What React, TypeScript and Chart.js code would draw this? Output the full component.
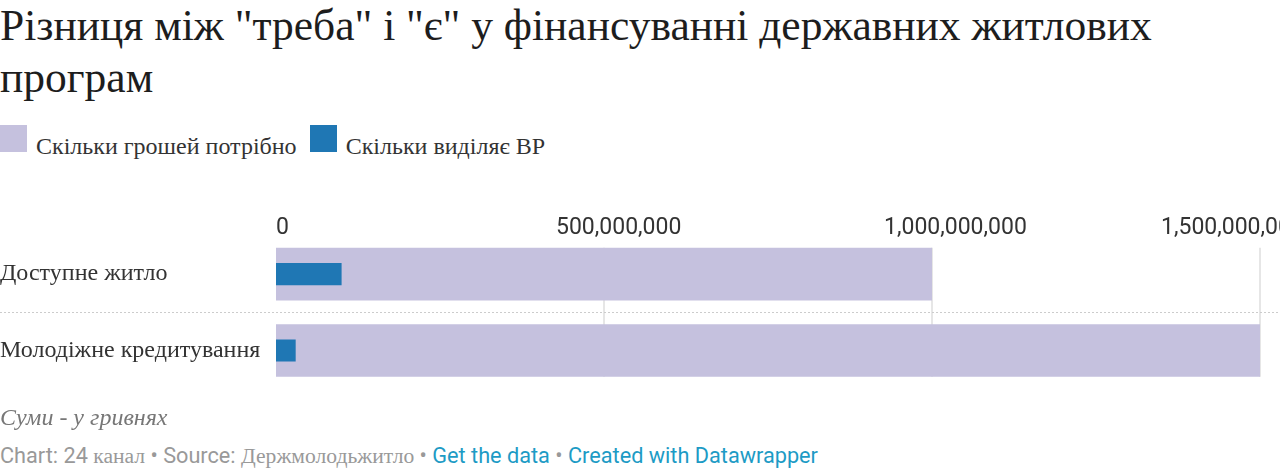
import React, { useEffect, useRef } from 'react';
import { Chart, registerables } from 'chart.js';

Chart.register(...registerables);

// chart data
const categories = ['Доступне житло', 'Молодіжне кредитування'];
const neededValues = [1000000000, 1500000000];
const allocatedValues = [100000000, 30000000];
const xTicks = [0, 500000000, 1000000000, 1500000000];

const LAVENDER = '#c5c1de';
const BLUE = '#1f77b4';
const SERIF = '"Liberation Serif", "DejaVu Serif", serif';
const SANS = 'Roboto, "Noto Sans", sans-serif';

// grid lines, row separator and top tick labels
const decorPlugin = {
  id: 'decor',
  beforeDatasetsDraw(chart: any) {
    const { ctx, chartArea } = chart;
    const x = chart.scales.x;
    const meta = chart.getDatasetMeta(1);
    const first = meta.data[0];
    const last = meta.data[meta.data.length - 1];
    const top = first.y - first.height / 2;
    const bottom = last.y + last.height / 2;
    ctx.save();
    ctx.strokeStyle = '#e6e6e6';
    ctx.lineWidth = 2;
    xTicks.slice(1).forEach((v) => {
      const px = Math.round(x.getPixelForValue(v));
      ctx.beginPath();
      ctx.moveTo(px, top);
      ctx.lineTo(px, bottom);
      ctx.stroke();
    });
    // dotted separator between rows
    const y = chart.scales.y;
    ctx.strokeStyle = '#cccccc';
    ctx.lineWidth = 1;
    ctx.setLineDash([2, 2]);
    for (let i = 0; i < categories.length - 1; i++) {
      const mid = Math.round((y.getPixelForValue(i) + y.getPixelForValue(i + 1)) / 2) + 0.5;
      ctx.beginPath();
      ctx.moveTo(0, mid);
      ctx.lineTo(chart.width, mid);
      ctx.stroke();
    }
    ctx.setLineDash([]);
    // tick labels
    ctx.fillStyle = '#333333';
    ctx.font = `23px ${SANS}`;
    ctx.textBaseline = 'alphabetic';
    ctx.textAlign = 'left';
    xTicks.forEach((v, i) => {
      const px = x.getPixelForValue(v);
      let shift = -48;
      if (i === 0) shift = 0;
      if (i === xTicks.length - 1) shift = -99;
      ctx.fillText(v.toLocaleString('en-US'), px + shift, chartArea.top - 2);
    });
    ctx.restore();
  },
};

const BarChart: React.FC = () => {
  const chartRef = useRef<HTMLCanvasElement | null>(null);
  const chartInstance = useRef<Chart | null>(null);

  useEffect(() => {
    const ctx = chartRef.current?.getContext('2d');
    if (chartInstance.current) {
      chartInstance.current.destroy();
    }
    if (ctx) {
      chartInstance.current = new Chart(ctx, {
        type: 'bar',
        data: {
          labels: categories,
          datasets: [
            {
              label: 'Скільки виділяє ВР',
              data: allocatedValues,
              backgroundColor: BLUE,
              barPercentage: 0.29,
              categoryPercentage: 1,
              grouped: false,
              order: 1,
            },
            {
              label: 'Скільки грошей потрібно',
              data: neededValues,
              backgroundColor: LAVENDER,
              barPercentage: 0.69,
              categoryPercentage: 1,
              grouped: false,
              order: 2,
            },
          ],
        },
        options: {
          indexAxis: 'y',
          animation: false,
          responsive: true,
          maintainAspectRatio: false,
          layout: { padding: { left: 0, right: 20, top: 0, bottom: 7 } },
          plugins: {
            legend: { display: false },
            tooltip: { enabled: false },
          },
          scales: {
            x: {
              position: 'top',
              min: 0,
              max: 1500000000,
              ticks: { display: false, stepSize: 500000000 },
              grid: { display: false },
              border: { display: false },
              afterFit: (scale: any) => {
                scale.height = 40;
              },
            },
            y: {
              ticks: {
                crossAlign: 'far',
                color: '#333333',
                font: { family: SERIF, size: 24 },
              },
              grid: { display: false },
              border: { display: false },
              afterFit: (scale: any) => {
                scale.width = 276;
              },
            },
          },
        },
        plugins: [decorPlugin],
      });
    }
    return () => {
      if (chartInstance.current) {
        chartInstance.current.destroy();
        chartInstance.current = null;
      }
    };
  }, []);

  return (
    <div style={{ position: 'absolute', left: 0, top: 196, width: 1280, height: 210 }}>
      <canvas ref={chartRef} />
    </div>
  );
};

const LegendItem: React.FC<{ color: string; label: string }> = ({ color, label }) => (
  <div style={{ display: 'flex', alignItems: 'flex-start', marginRight: 13 }}>
    <span style={{ display: 'inline-block', width: 27, height: 27, background: color, marginRight: 9 }} />
    <span style={{ marginTop: 8 }}>{label}</span>
  </div>
);

const App: React.FC = () => {
  useEffect(() => {
    document.body.style.margin = '0';
  }, []);

  return (
    <div style={{ position: 'relative', width: 1280, height: 472, overflow: 'hidden', background: '#fff' }}>
      <div
        style={{
          position: 'absolute',
          left: 0,
          top: 0,
          width: 1270,
          fontFamily: SERIF,
          fontSize: 43.5,
          lineHeight: '51.6px',
          color: '#1d1d1d',
        }}
      >
        Різниця між "треба" і "є" у фінансуванні державних житлових програм
      </div>
      <div
        style={{
          position: 'absolute',
          left: 0,
          top: 125,
          display: 'flex',
          fontFamily: SERIF,
          fontSize: 24,
          color: '#333',
          lineHeight: '27px',
        }}
      >
        <LegendItem color={LAVENDER} label="Скільки грошей потрібно" />
        <LegendItem color={BLUE} label="Скільки виділяє ВР" />
      </div>
      <BarChart />
      <div
        style={{
          position: 'absolute',
          left: 0,
          top: 404,
          fontFamily: SERIF,
          fontStyle: 'italic',
          fontSize: 24,
          color: '#777',
        }}
      >
        Суми - у гривнях
      </div>
      <div
        style={{
          position: 'absolute',
          left: 0,
          top: 443,
          fontFamily: SANS,
          fontSize: 21.7,
          color: '#999',
          whiteSpace: 'nowrap',
        }}
      >
        Chart: 24 <span style={{ fontFamily: SERIF, fontSize: 21.6 }}>канал</span> • Source:{' '}
        <span style={{ fontFamily: SERIF, fontSize: 21.6 }}>Держмолодьжитло</span> •{' '}
        <span style={{ color: '#1d9bc5' }}>Get the data</span> •{' '}
        <span style={{ color: '#1d9bc5' }}>Created with Datawrapper</span>
      </div>
    </div>
  );
};

export default App;
